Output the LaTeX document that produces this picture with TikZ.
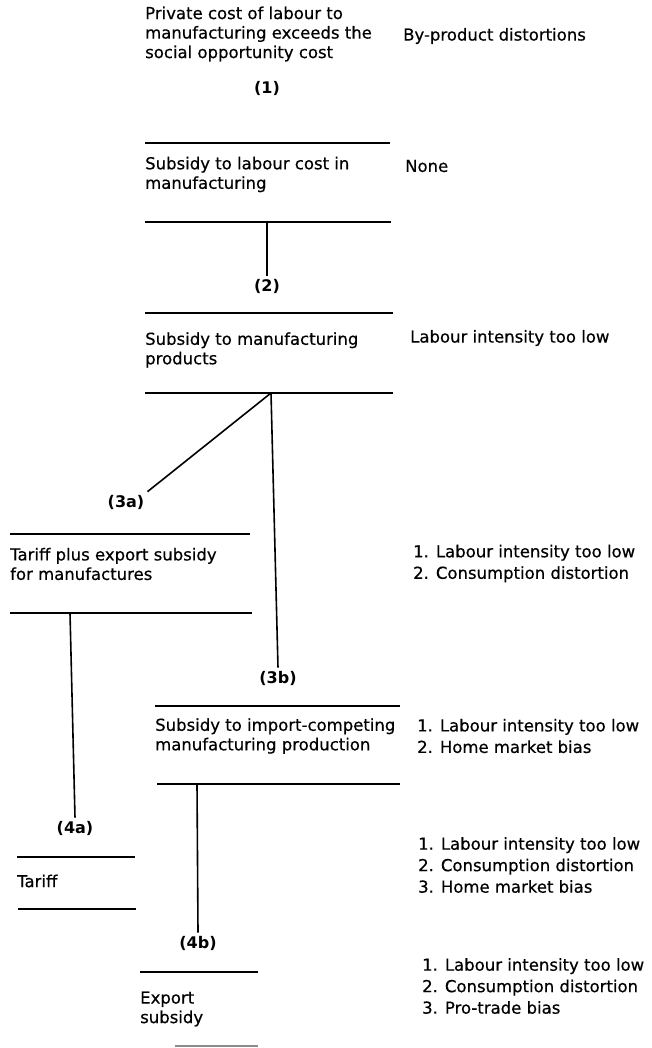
\documentclass[tikz,border=0pt]{standalone}
\usepackage{fontspec}
\setmainfont{DejaVu Sans}
\newfontfamily\dkfont{DejaVu Sans}[FakeBold=0.5]
\begin{document}
\begin{tikzpicture}[x=1pt,y=-1pt,
  txt/.style={anchor=west,inner sep=0pt,align=left,font=\dkfont\fontsize{16.5}{19.5}\selectfont},
  lst/.style={anchor=west,inner sep=0pt,align=left,font=\dkfont\fontsize{16.5}{21.5}\selectfont},
  lbl/.style={inner sep=3pt,font=\fontsize{16}{19}\selectfont\bfseries},
  rule/.style={line width=1.4pt},
  conn/.style={line width=1.6pt}]
\useasboundingbox[fill=white] (0,0) rectangle (651,1048);

% left-column boxes (text)
\node[txt] (top) at (145,34) {Private cost of labour to\\manufacturing exceeds the\\social opportunity cost};
\node[txt] (b1) at (145,174.5) {Subsidy to labour cost in\\manufacturing};
\node[txt] (b2) at (145,350) {Subsidy to manufacturing\\products};
\node[txt] (b3) at (10,564) {Tariff plus export subsidy\\for manufactures};
\node[txt] (b4) at (155,736) {Subsidy to import-competing\\manufacturing production};
\node[txt] (b5) at (17,881) {Tariff};
\node[txt] (b6) at (140,1009) {Export\\subsidy};

% right-column distortions
\node[txt] (r0) at (403,36) {By-product distortions};
\node[txt] (r1) at (405,166) {None};
\node[txt] (r2) at (410,338) {Labour intensity too low};
\node[lst] (r3) at (413,563.5) {1. Labour intensity too low\\2. Consumption distortion};
\node[lst] (r4) at (417,736) {1. Labour intensity too low\\2. Home market bias};
\node[lst] (r5) at (418,865) {1. Labour intensity too low\\2. Consumption distortion\\3. Home market bias};
\node[lst] (r6) at (422,986) {1. Labour intensity too low\\2. Consumption distortion\\3. Pro-trade bias};

% step labels
\node[lbl] (p1) at (267,88) {(1)};
\node[lbl] (p2) at (267,286) {(2)};
\node[lbl] (p3a) at (126,502) {(3a)};
\node[lbl] (p3b) at (278,678) {(3b)};
\node[lbl] (p4a) at (75,828) {(4a)};
\node[lbl] (p4b) at (198,943) {(4b)};

% horizontal rules
\draw[rule] (145,143) coordinate (l1a) -- (390,143) coordinate (l1b);
\draw[rule] (145,222) coordinate (l2a) -- (391,222) coordinate (l2b);
\draw[rule] (145,313) coordinate (l3a) -- (393,313) coordinate (l3b);
\draw[rule] (145,393) coordinate (l4a) -- (393,393) coordinate (l4b);
\draw[rule] (10,534) coordinate (l5a) -- (250,534) coordinate (l5b);
\draw[rule] (10,613) coordinate (l6a) -- (252,613) coordinate (l6b);
\draw[rule] (155,706) coordinate (l7a) -- (400,706) coordinate (l7b);
\draw[rule] (157,784) coordinate (l8a) -- (400,784) coordinate (l8b);
\draw[rule] (17,857) coordinate (l9a) -- (135,857) coordinate (l9b);
\draw[rule] (18,909) coordinate (l10a) -- (136,909) coordinate (l10b);
\draw[rule] (140,972) coordinate (l11a) -- (258,972) coordinate (l11b);
\draw[rule,black!45] (175,1046) coordinate (l12a) -- (258,1046) coordinate (l12b);

% junctions on the rules
\coordinate (j2) at (267,222);
\coordinate (j4) at (271,393);
\coordinate (j6) at (70,613);
\coordinate (j8) at (197,784);

% connectors
\draw[conn] (j2) -- (p2.north);
\draw[conn] (j4) -- (p3a.north east);
\draw[conn] (j4) -- (p3b.north);
\draw[conn] (j6) -- (p4a.north);
\draw[conn] (j8) -- (p4b.north);
\end{tikzpicture}
\end{document}
